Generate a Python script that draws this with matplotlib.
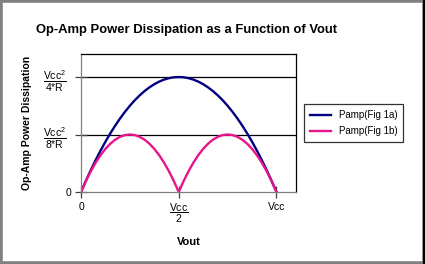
import matplotlib.pyplot as plt
from matplotlib.patches import Rectangle
from matplotlib.lines import Line2D
from matplotlib.transforms import ScaledTranslation

plt.rcParams['font.family'] = ['Liberation Sans', 'DejaVu Sans']
plt.rcParams['mathtext.fontset'] = 'custom'
plt.rcParams['mathtext.rm'] = 'Liberation Sans'

# Vout in units of Vcc, power in units of Vcc^2/R
vout = [0, 0.025, 0.05, 0.075, 0.1, 0.125, 0.15, 0.175, 0.2, 0.225, 0.25,
        0.275, 0.3, 0.325, 0.35, 0.375, 0.4, 0.425, 0.45, 0.475, 0.5,
        0.525, 0.55, 0.575, 0.6, 0.625, 0.65, 0.675, 0.7, 0.725, 0.75,
        0.775, 0.8, 0.825, 0.85, 0.875, 0.9, 0.925, 0.95, 0.975, 1.0]
pamp_1a = [0, 0.0244, 0.0475, 0.0694, 0.09, 0.1094, 0.1275, 0.1444, 0.16, 0.1744, 0.1875,
           0.1994, 0.21, 0.2194, 0.2275, 0.2344, 0.24, 0.2444, 0.2475, 0.2494, 0.25,
           0.2494, 0.2475, 0.2444, 0.24, 0.2344, 0.2275, 0.2194, 0.21, 0.1994, 0.1875,
           0.1744, 0.16, 0.1444, 0.1275, 0.1094, 0.09, 0.0694, 0.0475, 0.0244, 0]
pamp_1b = [0, 0.0238, 0.045, 0.0638, 0.08, 0.0938, 0.105, 0.1138, 0.12, 0.1238, 0.125,
           0.1238, 0.12, 0.1138, 0.105, 0.0938, 0.08, 0.0638, 0.045, 0.0238, 0,
           0.0238, 0.045, 0.0638, 0.08, 0.0938, 0.105, 0.1138, 0.12, 0.1238, 0.125,
           0.1238, 0.12, 0.1138, 0.105, 0.0938, 0.08, 0.0638, 0.045, 0.0238, 0]

xticks = [0, 0.5, 1.0]
xlabels = ['0', r'$\dfrac{\mathrm{Vcc}}{\mathrm{2}}$', 'Vcc']
yticks = [0, 0.125, 0.25]
ylabels = ['0', r'$\dfrac{\mathrm{Vcc^2}}{\mathrm{8{*}R}}$', r'$\dfrac{\mathrm{Vcc^2}}{\mathrm{4{*}R}}$']

fig = plt.figure(figsize=(4.25, 2.64), dpi=100)
ax = fig.add_axes([0.1906, 0.2727, 0.5059, 0.5227])

l1, = ax.plot(vout, pamp_1a, color='#000080', lw=1.7)
l2, = ax.plot(vout, pamp_1b, color='#e8148c', lw=1.7)

for y in yticks[1:]:
    ax.axhline(y, color='black', lw=0.9, zorder=0)

ax.set_xlim(0, 1.1)
ax.set_ylim(0, 0.3)
ax.set_xticks(xticks)
ax.set_xticklabels(xlabels, fontsize=7.5)
ax.set_yticks(yticks)
ax.set_yticklabels(ylabels, fontsize=7.5)
ax.tick_params(direction='inout', length=8, width=0.9, color='#404040', pad=3)
for s in ax.spines.values():
    s.set_linewidth(0.9)
ax.spines['bottom'].set_color('#808080')
ax.spines['left'].set_color('#808080')

# the fraction labels sit a bit further out than the "0"
for lab in ax.get_yticklabels()[1:]:
    lab.set_transform(lab.get_transform() + ScaledTranslation(-3 / 72, 0, fig.dpi_scale_trans))

ax.set_xlabel('Vout', fontsize=8, fontweight='bold', labelpad=9)
ax.set_ylabel('Op-Amp Power Dissipation', fontsize=7.5, fontweight='bold', labelpad=8)
fig.text(0.085, 0.885, 'Op-Amp Power Dissipation as a Function of Vout',
         fontsize=9.4, fontweight='bold', va='center')

leg = fig.legend([l1, l2], ['Pamp(Fig 1a)', 'Pamp(Fig 1b)'], loc='center',
                 bbox_to_anchor=(0.832, 0.534), fontsize=7, frameon=True,
                 fancybox=False, edgecolor='black', handlelength=2.2,
                 borderpad=0.6, labelspacing=0.6)
leg.get_frame().set_linewidth(0.9)

# outer frame of the picture
fig.patches.append(Rectangle((0, 0), 1, 1, transform=fig.transFigure,
                             fill=False, edgecolor='#808080', lw=4))
fig.lines.append(Line2D([0.998, 0.998], [0, 1], transform=fig.transFigure,
                        color='black', lw=1.5))

fig.savefig('out.png', dpi=100)
